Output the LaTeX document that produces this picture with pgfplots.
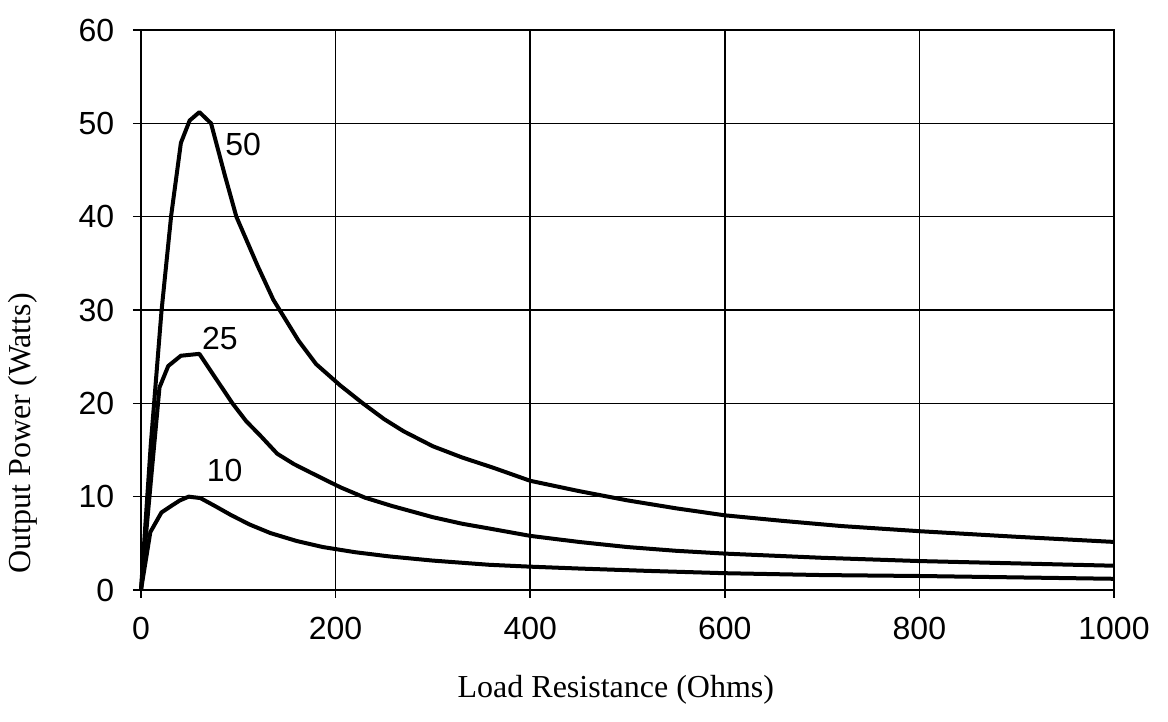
\documentclass[border=0pt]{standalone}
\usepackage{fontspec}
\setmainfont{Liberation Serif}
\newfontfamily\arial{Liberation Sans}
\usepackage{pgfplots}
\pgfplotsset{compat=1.18}

\begin{document}
\begin{tikzpicture}
\begin{axis}[
  at={(0,0)}, anchor=south west,
  width=486.5pt, height=280pt, scale only axis,
  xmin=0, xmax=1000, ymin=0, ymax=60,
  xtick={0,200,...,1000}, ytick={0,10,...,60},
  grid=major, major grid style={black, line width=0.7pt},
  axis line style={black, line width=1pt},
  tick align=outside, tick pos=left, major tick length=4pt,
  tick style={black, line width=0.8pt},
  ticklabel style={font=\arial\fontsize{16}{18}\selectfont, inner sep=0pt},
  /pgf/number format/assume math mode=true,
  /pgf/number format/set thousands separator={},
  xticklabel style={anchor=north, yshift=-9.5pt},
  yticklabel style={anchor=east, xshift=-9.25pt},
  xlabel={Load Resistance (Ohms)},
  ylabel={Output Power (Watts)},
  label style={font=\fontsize{16}{19}\selectfont},
  xlabel style={at={(axis description cs:0.488,-0.178)}, anchor=center},
  ylabel style={at={(axis description cs:-0.121,0.28)}, anchor=center},
  clip=false,
]
\addplot[black, line width=2pt, line join=round] coordinates {
(0,0) (10,15.5) (21,29.8) (31,40.1) (41,47.9) (50,50.3) (60,51.2) (72,50.0)
(86,44.5) (98,40.0) (120,34.7) (136,31.1) (162,26.7) (180,24.2) (205,21.9)
(228,20.0) (250,18.3) (270,17.0) (300,15.4) (330,14.2) (362,13.1) (400,11.7)
(450,10.6) (500,9.6) (550,8.75) (600,8.0) (660,7.4) (720,6.85) (800,6.3)
(900,5.7) (1000,5.15)};
\addplot[black, line width=2pt, line join=round] coordinates {
(0,0) (10,11.5) (19,21.7) (28,24.0) (41,25.1) (60,25.3) (76,22.8) (94,20.0)
(108,18.1) (123,16.5) (140,14.6) (157,13.5) (174,12.6) (205,11.0) (230,9.9)
(258,9.0) (300,7.8) (330,7.1) (360,6.55) (400,5.8) (450,5.15) (500,4.6)
(550,4.2) (600,3.9) (700,3.45) (800,3.1) (900,2.85) (1000,2.6)};
\addplot[black, line width=2pt, line join=round] coordinates {
(0,0) (9.6,6.2) (21,8.3) (31,9.0) (40,9.6) (49,10.0) (61,9.85) (76,9.0)
(93,8.0) (112,7.0) (133,6.1) (160,5.25) (187,4.6) (220,4.05) (255,3.6)
(300,3.15) (358,2.7) (400,2.5) (450,2.3) (520,2.05) (600,1.8) (700,1.6)
(800,1.5) (900,1.35) (1000,1.2)};
\node[font=\arial\fontsize{16}{18}\selectfont] at (axis cs:105,47.7) {50};
\node[font=\arial\fontsize{16}{18}\selectfont] at (axis cs:81,27.0) {25};
\node[font=\arial\fontsize{16}{18}\selectfont] at (axis cs:86,12.8) {10};
\end{axis}
\path[use as bounding box] (-70.5pt,-66pt) rectangle (513.5pt,295pt);
\end{tikzpicture}
\end{document}
